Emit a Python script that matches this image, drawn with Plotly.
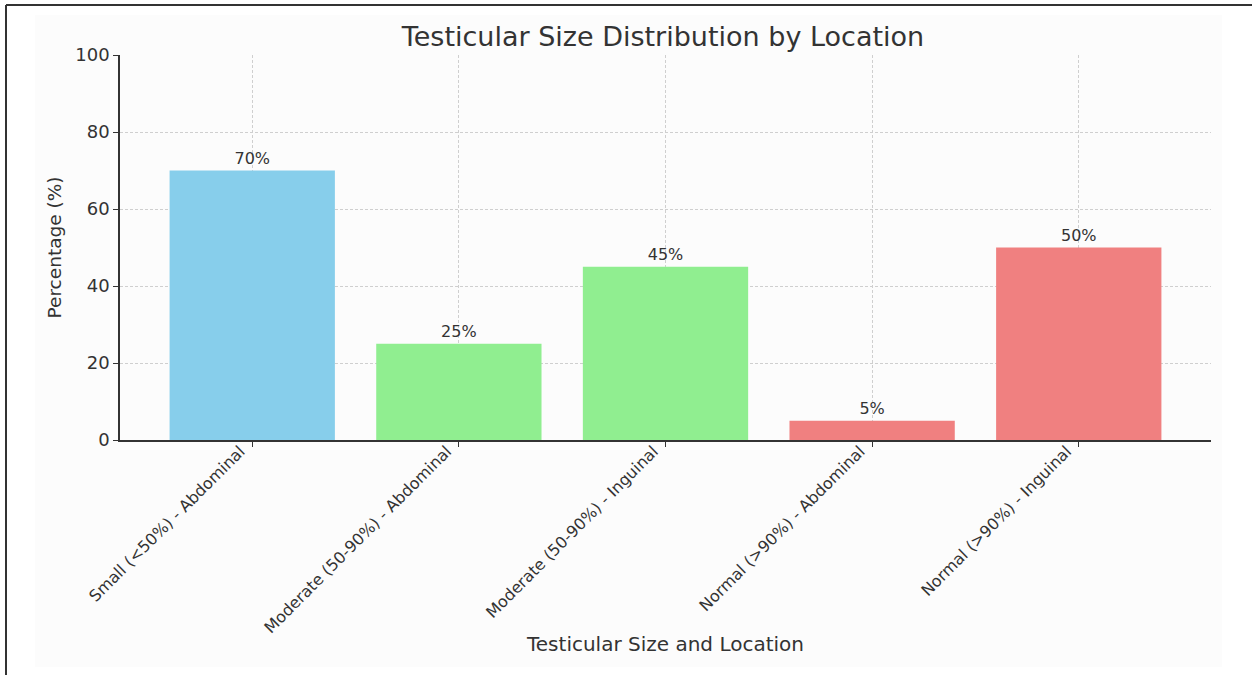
import plotly.graph_objects as go

# Categories and percentages
categories = [
    "Small (<50%) - Abdominal",
    "Moderate (50-90%) - Abdominal",
    "Moderate (50-90%) - Inguinal",
    "Normal (>90%) - Abdominal",
    "Normal (>90%) - Inguinal",
]
percentages = [70, 25, 45, 5, 50]
bar_colors = ["#87CEEB", "#90EE90", "#90EE90", "#F08080", "#F08080"]
y_ticks = [0, 20, 40, 60, 80, 100]

W, H = 1252, 675
L, R, T, B = 120, 41, 55, 235
pw, ph = W - L - R, H - T - B


def px_x(px):
    return (px - L) / pw


def px_y(py):
    return (H - B - py) / ph


font = "DejaVu Sans"
ink = "#333333"
grid = "#cfcfcf"

fig = go.Figure(
    go.Bar(
        x=categories,
        y=percentages,
        marker=dict(color=bar_colors, line=dict(width=0)),
        text=[f"{v}%" for v in percentages],
        textposition="outside",
        textfont=dict(size=16, color=ink, family=font),
        cliponaxis=False,
        hoverinfo="skip",
    )
)

shapes = [
    # light panel behind the figure
    dict(type="rect", xref="paper", yref="paper", layer="below",
         x0=px_x(35), x1=px_x(1222), y0=px_y(667), y1=px_y(15),
         fillcolor="#fcfcfc", line=dict(width=0)),
    # outer frame (left and top)
    dict(type="line", xref="paper", yref="paper",
         x0=px_x(6), x1=px_x(6), y0=px_y(675), y1=px_y(5),
         line=dict(color=ink, width=2)),
    dict(type="line", xref="paper", yref="paper",
         x0=px_x(6), x1=px_x(1252), y0=px_y(5), y1=px_y(5),
         line=dict(color=ink, width=2)),
]

fig.update_layout(
    width=W,
    height=H,
    margin=dict(l=L, r=R, t=T, b=B, pad=0, autoexpand=False),
    paper_bgcolor="white",
    plot_bgcolor="rgba(0,0,0,0)",
    showlegend=False,
    bargap=0.2,
    shapes=shapes,
    font=dict(family=font, color=ink),
    title=dict(
        text="Testicular Size Distribution by Location",
        x=663 / W, xanchor="center",
        y=1 - 37 / H, yanchor="middle",
        font=dict(size=27, color=ink, family=font),
    ),
    annotations=[
        dict(text="Testicular Size and Location", xref="paper", yref="paper",
             x=px_x(665), y=px_y(644), xanchor="center", yanchor="middle",
             showarrow=False, font=dict(size=20, color=ink, family=font)),
    ],
    xaxis=dict(
        type="category",
        range=[-0.64, 4.64],
        automargin=False,
        tickangle=-45,
        tickfont=dict(size=16, color=ink),
        ticklabelshift=-12,
        ticklabelstandoff=-11,
        ticks="outside", ticklen=5, tickcolor=ink,
        showline=True, linecolor=ink, linewidth=1.5,
        showgrid=True, gridcolor=grid, griddash="3px,2px", gridwidth=1,
        zeroline=False,
    ),
    yaxis=dict(
        range=[0, 100],
        tickvals=y_ticks,
        automargin=False,
        tickfont=dict(size=18, color=ink),
        ticks="outside", ticklen=5, tickcolor=ink,
        showline=True, linecolor=ink, linewidth=1.5,
        showgrid=True, gridcolor=grid, griddash="3px,2px", gridwidth=1,
        zeroline=False,
        title=dict(text="Percentage (%)",
                   font=dict(size=18.5, color=ink), standoff=9),
    ),
)

fig.write_html("out.html")
